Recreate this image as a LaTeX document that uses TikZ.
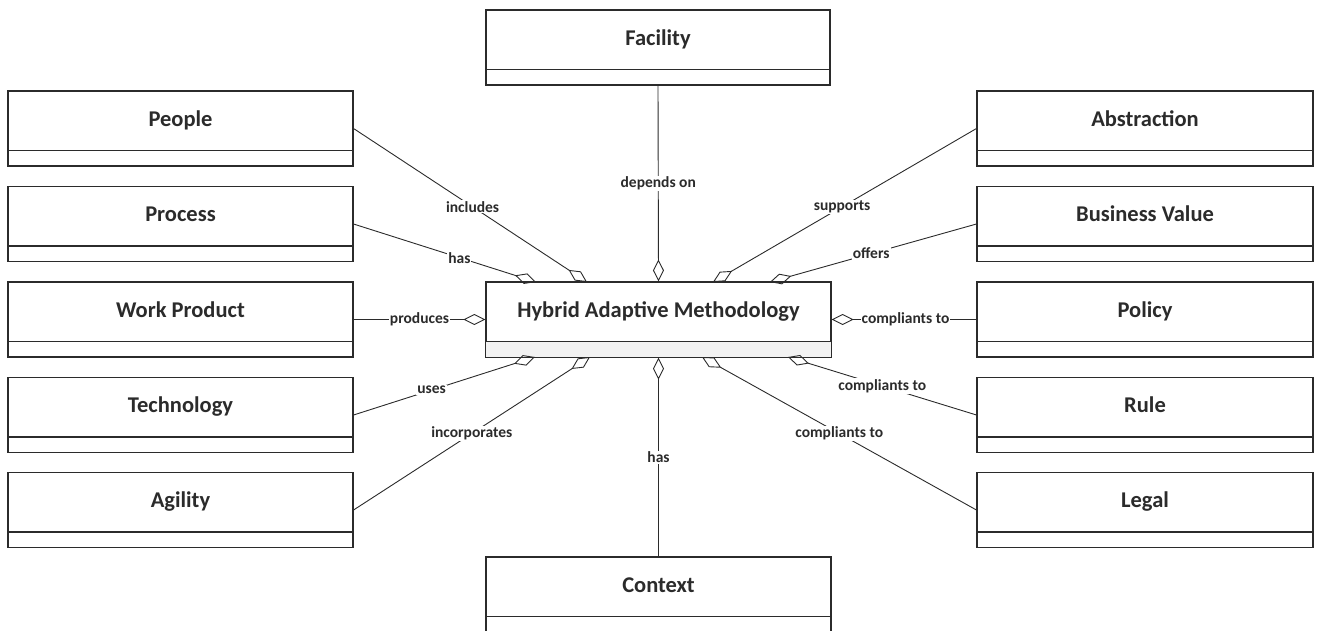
\documentclass[tikz,border=0pt]{standalone}
\usepackage{fontspec}
\setmainfont{Carlito}
\usetikzlibrary{arrows.meta}
\definecolor{edge}{HTML}{2B2B2B}
\definecolor{lowfill}{HTML}{F2F2F2}
\tikzset{
  classbox/.style={draw=edge, line width=1.1pt, fill=white, rectangle, inner sep=0pt},
  classtitle/.style={font=\bfseries\fontsize{22.5}{26}\selectfont, text=edge, inner sep=0pt, anchor=base},
  assoc/.style={draw=edge, line width=0.9pt,
    {Diamond[open, length=22pt, width=11pt, line width=0.9pt]}-},
  rolelabel/.style={font=\bfseries\fontsize{15.5}{18}\selectfont, text=edge, fill=white, inner sep=1pt}
}
% \umlclass{name}{center x}{center y}{width}{title}
\newcommand{\umlclass}[5]{%
  \node[classbox, minimum width=#4pt, minimum height=75pt] (#1) at (#2,#3) {};
  \node[classtitle] (#1-title) at ([yshift=-36pt]#1.north) {#5};
  \draw[edge, line width=1.5pt] ([yshift=16pt]#1.south west) -- ([yshift=16pt]#1.south east);
}
\begin{document}
\begin{tikzpicture}[x=1pt, y=-1pt]
\useasboundingbox (0,0) rectangle (1322,630);
\clip (0,0) rectangle (1322,630);

% central class
\node[classbox, minimum width=345pt, minimum height=75pt] (ham) at (658.5,319.5) {};
\fill[lowfill] ([yshift=16pt]ham.south west) rectangle (ham.south east);
\draw[edge, line width=1.1pt] (ham.north west) rectangle (ham.south east);
\draw[edge, line width=1.5pt] ([yshift=16pt]ham.south west) -- ([yshift=16pt]ham.south east);
\node[classtitle] (ham-title) at ([yshift=-36.5pt]ham.north) {Hybrid Adaptive Methodology};

% surrounding classes
\umlclass{facility}{658}{47.5}{344}{Facility}
\umlclass{context}{658.5}{594.5}{345}{Context}
\umlclass{people}{180.5}{128.5}{345}{People}
\umlclass{process}{180.5}{224}{345}{Process}
\umlclass{workproduct}{180.5}{319.5}{345}{Work Product}
\umlclass{technology}{180.5}{415}{345}{Technology}
\umlclass{agility}{180.5}{510}{345}{Agility}
\umlclass{abstraction}{1145}{128.5}{336}{Abstraction}
\umlclass{businessvalue}{1145}{224}{336}{Business Value}
\umlclass{policy}{1145}{319.5}{336}{Policy}
\umlclass{rule}{1145}{415}{336}{Rule}
\umlclass{legal}{1145}{510}{336}{Legal}

% attachment points on the central class
\coordinate (pIncl) at (587,282);
\coordinate (pHas)  at (536,282);
\coordinate (pSup)  at (713,282);
\coordinate (pOff)  at (770,282);
\coordinate (pUses) at (535,357);
\coordinate (pInc)  at (590,357);
\coordinate (pRule) at (788,357);
\coordinate (pLeg)  at (702,357);

% aggregations (diamond at the Hybrid Adaptive Methodology end)
\draw[assoc] (ham.north) -- node[rolelabel, pos=0.5] {depends on} (facility.south);
\draw[assoc] (ham.south) -- node[rolelabel, pos=0.5] {has} (context.north);
\draw[assoc] (pIncl) -- node[rolelabel, pos=0.49] {includes} (people.east);
\draw[assoc] (pHas) -- node[rolelabel, pos=0.42] {has} (process.east);
\draw[assoc] (ham.west) -- node[rolelabel, pos=0.5] {produces} (workproduct.east);
\draw[assoc] (pUses) -- node[rolelabel, pos=0.57] {uses} (technology.east);
\draw[assoc] (pInc) -- node[rolelabel, pos=0.5] {incorporates} (agility.east);
\draw[assoc] (pSup) -- node[rolelabel, pos=0.49] {supports} (abstraction.west);
\draw[assoc] (pOff) -- node[rolelabel, pos=0.49] {offers} (businessvalue.west);
\draw[assoc] (ham.east) -- node[rolelabel, pos=0.51] {compliants to} (policy.west);
\draw[assoc] (pRule) -- node[rolelabel, pos=0.5] {compliants to} (rule.west);
\draw[assoc] (pLeg) -- node[rolelabel, pos=0.5] {compliants to} (legal.west);
\end{tikzpicture}
\end{document}
